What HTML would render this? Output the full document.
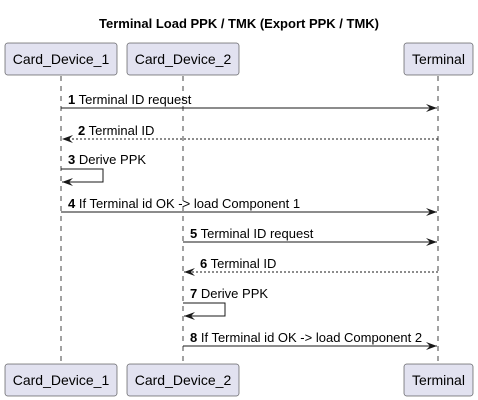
<!DOCTYPE html>
<html><head><style>body{margin:0;background:#fff}svg{display:block}</style></head><body>
<svg width="478" height="400" xmlns="http://www.w3.org/2000/svg" font-family="Liberation Sans, sans-serif">
<defs><marker id="a" markerWidth="12" markerHeight="10" refX="11" refY="5" orient="auto" markerUnits="userSpaceOnUse"><path d="M0,1 L11,5 L0,9 L4,5 Z" fill="#181818"/></marker></defs>
<text x="239" y="28" text-anchor="middle" font-size="13" font-weight="bold">Terminal Load PPK / TMK (Export PPK / TMK)</text>
<g stroke="#181818" stroke-width="0.8" stroke-dasharray="5,5">
<line x1="61" y1="76" x2="61" y2="364"/><line x1="183" y1="76" x2="183" y2="364"/><line x1="438" y1="76" x2="438" y2="364"/></g>
<g fill="#E2E2F0" stroke="#181818" stroke-width="0.5">
<rect x="5" y="43" width="112" height="32" rx="2.5"/><rect x="127" y="43" width="112" height="32" rx="2.5"/><rect x="404" y="43" width="69" height="32" rx="2.5"/>
<rect x="5" y="364" width="112" height="32" rx="2.5"/><rect x="127" y="364" width="112" height="32" rx="2.5"/><rect x="404" y="364" width="69" height="32" rx="2.5"/></g>
<g font-size="14" fill="#000" text-anchor="middle">
<text x="61" y="64">Card_Device_1</text><text x="183" y="64">Card_Device_2</text><text x="438.5" y="64">Terminal</text>
<text x="61" y="385">Card_Device_1</text><text x="183" y="385">Card_Device_2</text><text x="438.5" y="385">Terminal</text></g>
<g stroke="#181818" stroke-width="1" fill="none">
<line x1="61" y1="108" x2="437" y2="108" marker-end="url(#a)"/>
<line x1="438" y1="139" x2="62" y2="139" stroke-dasharray="2,2" marker-end="url(#a)"/>
<polyline points="61,169 103,169 103,182 62,182" marker-end="url(#a)"/>
<line x1="61" y1="212" x2="437" y2="212" marker-end="url(#a)"/>
<line x1="183" y1="242" x2="437" y2="242" marker-end="url(#a)"/>
<line x1="438" y1="272" x2="184" y2="272" stroke-dasharray="2,2" marker-end="url(#a)"/>
<polyline points="183,303 225,303 225,316 184,316" marker-end="url(#a)"/>
<line x1="183" y1="346" x2="437" y2="346" marker-end="url(#a)"/></g>
<g font-size="13" fill="#000">
<text x="68" y="104"><tspan font-weight="bold">1</tspan> Terminal ID request</text>
<text x="78" y="135"><tspan font-weight="bold">2</tspan> Terminal ID</text>
<text x="68" y="164"><tspan font-weight="bold">3</tspan> Derive PPK</text>
<text x="68" y="208"><tspan font-weight="bold">4</tspan> If Terminal id OK -&gt; load Component 1</text>
<text x="190" y="238"><tspan font-weight="bold">5</tspan> Terminal ID request</text>
<text x="200" y="268"><tspan font-weight="bold">6</tspan> Terminal ID</text>
<text x="190" y="298"><tspan font-weight="bold">7</tspan> Derive PPK</text>
<text x="190" y="342"><tspan font-weight="bold">8</tspan> If Terminal id OK -&gt; load Component 2</text></g>
</svg>
</body></html>
